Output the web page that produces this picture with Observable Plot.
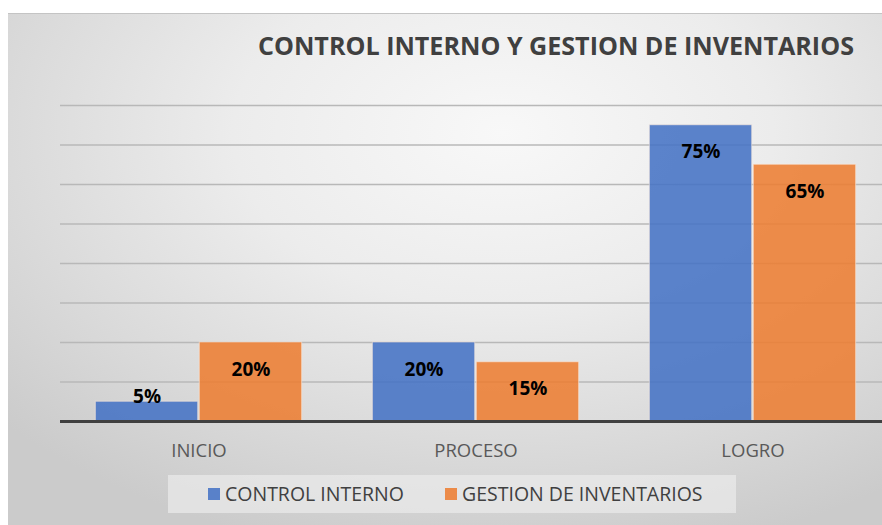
<!DOCTYPE html>
<html>
<head>
<meta charset="utf-8">
<script src="https://cdn.jsdelivr.net/npm/d3@7"></script>
<script src="https://cdn.jsdelivr.net/npm/@observablehq/plot@0.6"></script>
<style>
  html, body { margin: 0; padding: 0; background: #fff; }
  #wrap { position: relative; width: 882px; height: 525px; overflow: hidden; background: #fff; }
  #frame { position: absolute; left: 8px; top: 13px; width: 900px; height: 540px;
    border-top: 1px solid #c4c4c4;
    background: radial-gradient(ellipse 75% 80% at 55% 22%, #f8f8f8 0%, #ececec 40%, #d9d9d9 75%, #cbcbcb 100%); }
  #chart { position: absolute; left: 0; top: 0; width: 891px; }
  #chart svg { max-width: none !important; }
  #title { position: absolute; left: 258px; top: 28px; font-family: "Open Sans", sans-serif; font-weight: 700;
    font-size: 25.1px; color: #404040; white-space: nowrap; }
  #legend { position: absolute; left: 168px; top: 475px; width: 568px; height: 38px; background: rgba(235,235,235,0.7);
    font-family: "Open Sans", sans-serif; font-size: 19.5px; color: #404040; }
  .li { position: absolute; top: 6px; white-space: nowrap; line-height: 26px; }
  .sw { display: inline-block; width: 12px; height: 12px; margin-right: 5px; vertical-align: 1px; }
</style>
</head>
<body>
<div id="wrap">
  <div id="frame"></div>
  <div id="chart"></div>
  <div id="title">CONTROL INTERNO Y GESTION DE INVENTARIOS</div>
  <div id="legend"></div>
</div>
<script>
const categories = ["INICIO", "PROCESO", "LOGRO"];
const seriesNames = ["CONTROL INTERNO", "GESTION DE INVENTARIOS"];
const controlInterno = [5, 20, 75];
const gestionInventarios = [20, 15, 65];
const seriesColors = ["#4472C4", "#ED7D31"];
const gridTicks = [0, 10, 20, 30, 40, 50, 60, 70, 80];

const data = [];
categories.forEach((c, i) => {
  data.push({category: c, series: seriesNames[0], value: controlInterno[i]});
  data.push({category: c, series: seriesNames[1], value: gestionInventarios[i]});
});

const plot = Plot.plot({
  width: 891,
  height: 525,
  marginLeft: 60,
  marginRight: 0,
  marginTop: 105,
  marginBottom: 104,
  style: {background: "transparent", fontFamily: "'Open Sans', sans-serif", fontSize: "18.5px", color: "#595959", maxWidth: "none"},
  fx: {domain: categories, padding: 0, round: false, label: null, axis: "bottom", tickSize: 0, tickPadding: 22},
  x: {domain: seriesNames, axis: null, round: false, paddingInner: 0.015, paddingOuter: 0.34},
  y: {domain: [0, 80], axis: null},
  color: {domain: seriesNames, range: seriesColors},
  marks: [
    Plot.ruleY(gridTicks.filter(d => d > 0), {stroke: "#b8b8b8", strokeWidth: 1.3}),
    Plot.barY(data, {fx: "category", x: "series", y: "value", fill: "series", fillOpacity: 0.87,
      stroke: "#fbe9dc", strokeOpacity: 0.6, strokeWidth: 1}),
    Plot.ruleY([0], {stroke: "#404040", strokeWidth: 3}),
    Plot.text(data.filter(d => d.value >= 10), {fx: "category", x: "series", y: "value", text: d => d.value + "%",
      dy: 27, fontSize: 19, fontWeight: "bold", fill: "#000"}),
    Plot.text(data.filter(d => d.value < 10), {fx: "category", x: "series", y: "value", text: d => d.value + "%",
      dy: -5, fontSize: 19, fontWeight: "bold", fill: "#000"})
  ]
});
plot.style.maxWidth = "none";
document.getElementById("chart").appendChild(plot);

const legend = document.getElementById("legend");
const pos = [40, 277];
seriesNames.forEach((s, i) => {
  const el = document.createElement("div");
  el.className = "li";
  el.style.left = pos[i] + "px";
  el.innerHTML = `<span class="sw" style="background:${seriesColors[i]};opacity:0.87"></span>${s}`;
  legend.appendChild(el);
});
</script>
</body>
</html>
